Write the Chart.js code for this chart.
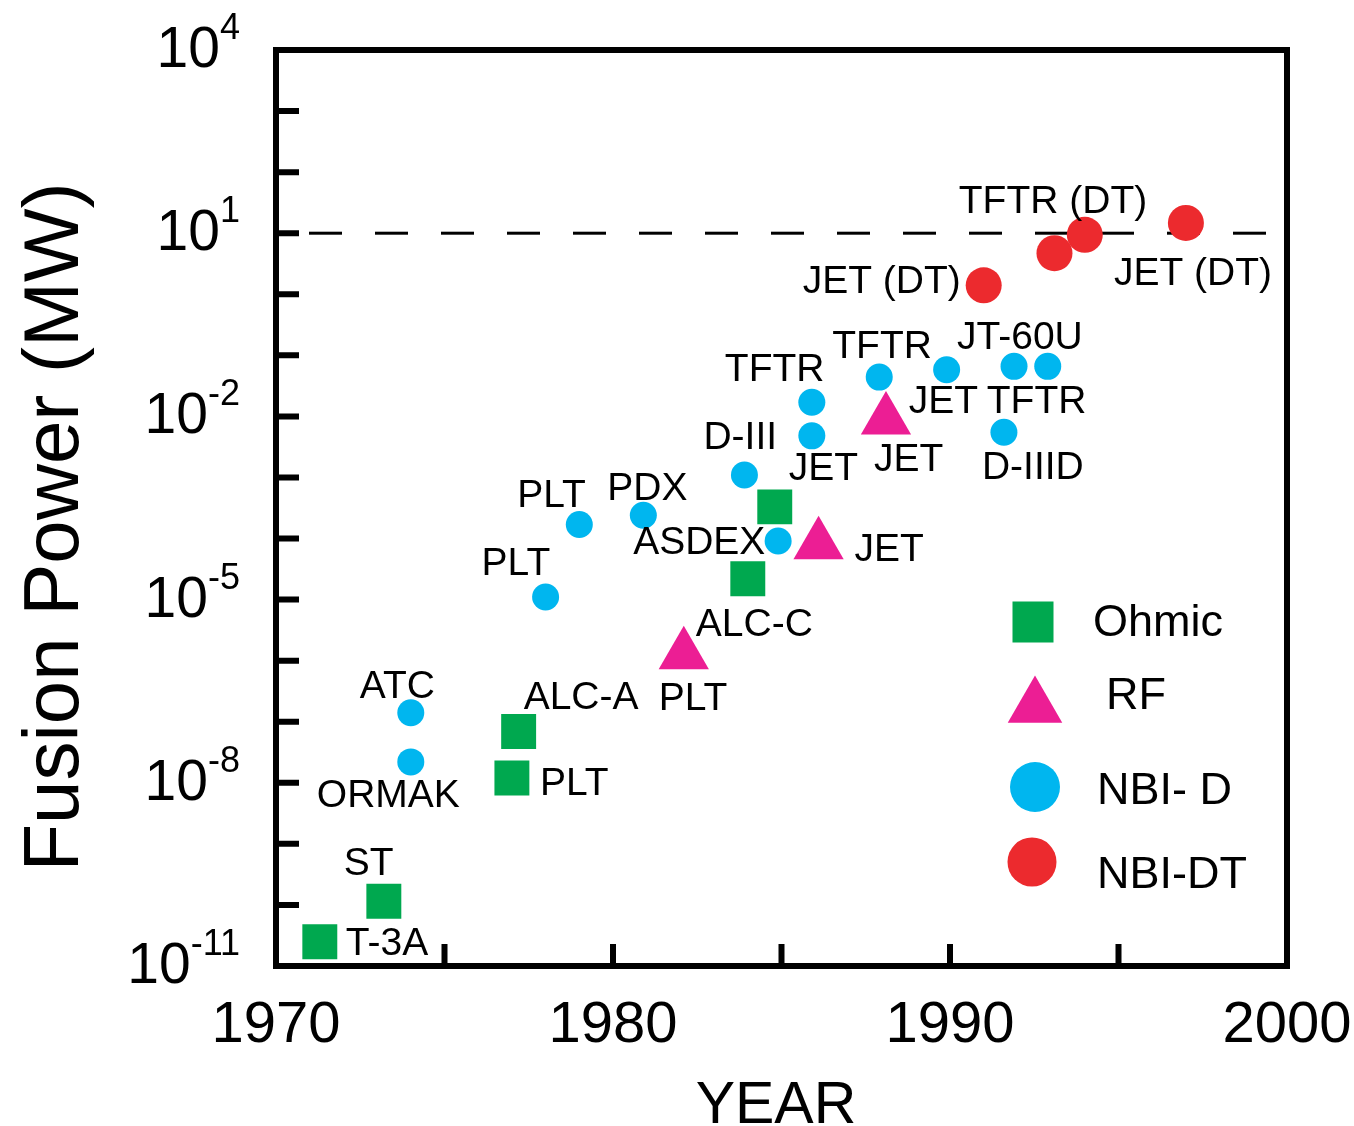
<!DOCTYPE html>
<html>
<head>
<meta charset="utf-8">
<script src="https://cdn.jsdelivr.net/npm/chart.js@4.4.0/dist/chart.umd.min.js"></script>
<style>
  body { margin: 0; background: #fff; }
  #wrap { width: 1354px; height: 1126px; }
</style>
</head>
<body>
<div id="wrap"><canvas id="fusionChart"></canvas></div>
<script>
// values: year, fusion power in MW
const ohmicYears = [1971.3, 1973.2, 1977.0, 1977.2, 1984.0, 1984.8];
const ohmicPower = [2.5e-11, 1.15e-10, 1.2e-8, 6.9e-8, 2.2e-5, 3.3e-4];
const ohmicNames = ['T-3A', 'ST', 'PLT', 'ALC-A', 'ALC-C', 'JET'];

const rfYears = [1982.1, 1986.1, 1988.1];
const rfPower = [1.25e-6, 7.9e-5, 8.7e-3];
const rfNames = ['PLT', 'JET', 'JET'];

const nbiDYears = [1974.0, 1974.0, 1978.0, 1979.0, 1980.9, 1983.9, 1984.9, 1985.9, 1985.9, 1987.9, 1989.9, 1991.9, 1992.9, 1991.6];
const nbiDPower = [1.4e-7, 2.2e-8, 1.1e-5, 1.7e-4, 2.4e-4, 1.1e-3, 9.1e-5, 4.8e-3, 1.7e-2, 4.4e-2, 5.8e-2, 6.6e-2, 6.6e-2, 5.5e-3];
const nbiDNames = ['ATC', 'ORMAK', 'PLT', 'PLT', 'PDX', 'D-III', 'ASDEX', '', 'TFTR', 'TFTR', 'JET', 'JT-60U', 'TFTR', 'D-IIID'];

const nbiDTYears = [1991.0, 1993.1, 1994.0, 1997.0];
const nbiDTPower = [1.4, 4.7, 9.4, 14.7];
const nbiDTNames = ['JET (DT)', '', 'TFTR (DT)', 'JET (DT)'];

// breakeven-ish reference level
const refYears = [1970, 2000];
const refPower = [10, 10];

const xTickYears = [1970, 1980, 1990, 2000];
const xMinorYears = [1975, 1980, 1985, 1990, 1995];
const yTickExps = [4, 1, -2, -5, -8, -11];

// label placement: pixel offset from the marker centre to the text's left/middle
const labelOffsets = {
  Ohmic: [[26, 0], [-40, -40], [28, 3], [5, -36], [-52, 44], [14, -41]],
  RF: [[-25, 42], [36, 2], [-12, 37]],
  'NBI- D': [[-51, -29], [-94, 31], [-64, -36], [-62, -31], [-36, -29], [-41, -40], [-145, -1], [0, 0],
    [-87, -35], [-47, -33], [-38, 29], [-57, -31], [-61, 33], [-22, 33]],
  'NBI-DT': [[-181, -6], [0, 0], [-126, -36], [-72, 48]]
};

const FONT = '"Liberation Sans", Arial, Helvetica, sans-serif';

function series(label, xs, ys, names, color, style, radius) {
  return {
    label,
    data: xs.map((x, i) => ({ x, y: ys[i], name: names[i] })),
    backgroundColor: color,
    pointStyle: style,
    pointRadius: radius,
    pointHoverRadius: radius,
    pointBorderWidth: 0,
    showLine: false
  };
}

const legendRows = [
  { marker: [1033, 622], r: 29, text: [1093, 624] },
  { marker: [1035, 707], r: 31.5, text: [1106, 697] },
  { marker: [1035, 787], r: 25, text: [1097, 792] },
  { marker: [1032, 862], r: 24.5, text: [1097, 876] }
];

const overlay = {
  id: 'overlay',
  afterDatasetsDraw(chart) {
    const { ctx, chartArea: a, scales: { x, y } } = chart;
    ctx.save();
    ctx.fillStyle = '#000';
    ctx.strokeStyle = '#000';

    // point labels
    ctx.font = '39px ' + FONT;
    ctx.textAlign = 'left';
    ctx.textBaseline = 'middle';
    chart.data.datasets.forEach((ds, di) => {
      const offs = labelOffsets[ds.label];
      if (!offs) return;
      chart.getDatasetMeta(di).data.forEach((pt, i) => {
        const name = ds.data[i].name;
        if (!name) return;
        ctx.fillText(name, pt.x + offs[i][0], pt.y + offs[i][1] + 3);
      });
    });

    // frame
    ctx.lineWidth = 6;
    ctx.strokeRect(a.left, a.top, a.right - a.left, a.bottom - a.top);

    // inward ticks
    ctx.beginPath();
    for (let e = -11; e <= 4; e++) {
      const py = y.getPixelForValue(Math.pow(10, e));
      ctx.moveTo(a.left, py);
      ctx.lineTo(a.left + 23, py);
    }
    xMinorYears.forEach(yr => {
      const px = x.getPixelForValue(yr);
      ctx.moveTo(px, a.bottom);
      ctx.lineTo(px, a.bottom - 22);
    });
    ctx.stroke();

    // x tick labels
    ctx.font = '58px ' + FONT;
    ctx.textAlign = 'center';
    ctx.textBaseline = 'alphabetic';
    xTickYears.forEach(yr => ctx.fillText(String(yr), x.getPixelForValue(yr), a.bottom + 76));

    // y tick labels: 10 with a raised exponent
    yTickExps.forEach(e => {
      const py = y.getPixelForValue(Math.pow(10, e));
      const sup = String(e);
      ctx.font = '36px ' + FONT;
      const wSup = ctx.measureText(sup).width;
      ctx.font = '57px ' + FONT;
      const wBase = ctx.measureText('10').width;
      const start = 240 - wSup - wBase;
      ctx.textAlign = 'left';
      ctx.fillText('10', start, py + 17);
      ctx.font = '36px ' + FONT;
      ctx.fillText(sup, start + wBase, py - 11);
    });

    // axis titles
    ctx.font = '59px ' + FONT;
    ctx.textAlign = 'center';
    ctx.fillText('YEAR', 776, 1123);
    ctx.save();
    ctx.translate(78, 527);
    ctx.rotate(-Math.PI / 2);
    ctx.font = '78px ' + FONT;
    ctx.fillText('Fusion Power (MW)', 0, 0);
    ctx.restore();

    // legend
    chart.data.datasets.slice(0, 4).forEach((ds, i) => {
      const row = legendRows[i];
      ctx.fillStyle = ds.backgroundColor;
      Chart.helpers.drawPoint(ctx, { pointStyle: ds.pointStyle, radius: row.r, rotation: 0, borderWidth: 0 },
        row.marker[0], row.marker[1]);
      ctx.fillStyle = '#000';
      ctx.font = '45px ' + FONT;
      ctx.textAlign = 'left';
      ctx.textBaseline = 'middle';
      ctx.fillText(ds.label, row.text[0], row.text[1]);
    });
    ctx.restore();
  }
};

new Chart(document.getElementById('fusionChart'), {
  type: 'scatter',
  data: {
    datasets: [
      series('Ohmic', ohmicYears, ohmicPower, ohmicNames, '#00a84f', 'rect', 24.7),
      series('RF', rfYears, rfPower, rfNames, '#ec1e94', 'triangle', 29),
      series('NBI- D', nbiDYears, nbiDPower, nbiDNames, '#00b6ef', 'circle', 13.5),
      series('NBI-DT', nbiDTYears, nbiDTPower, nbiDTNames, '#ec2a2e', 'circle', 18),
      {
        type: 'line',
        label: 'level',
        data: refYears.map((v, i) => ({ x: v, y: refPower[i] })),
        borderColor: '#000',
        borderWidth: 3,
        borderDash: [33, 33],
        borderDashOffset: 33,
        pointRadius: 0,
        order: 10
      }
    ]
  },
  options: {
    responsive: true,
    maintainAspectRatio: false,
    animation: false,
    events: [],
    layout: { padding: { left: 276, top: 50, right: 67, bottom: 160 } },
    plugins: { legend: { display: false }, tooltip: { enabled: false } },
    scales: {
      x: { type: 'linear', min: 1970, max: 2000, display: false },
      y: { type: 'logarithmic', min: 1e-11, max: 1e4, display: false }
    }
  },
  plugins: [overlay]
});
</script>
</body>
</html>
